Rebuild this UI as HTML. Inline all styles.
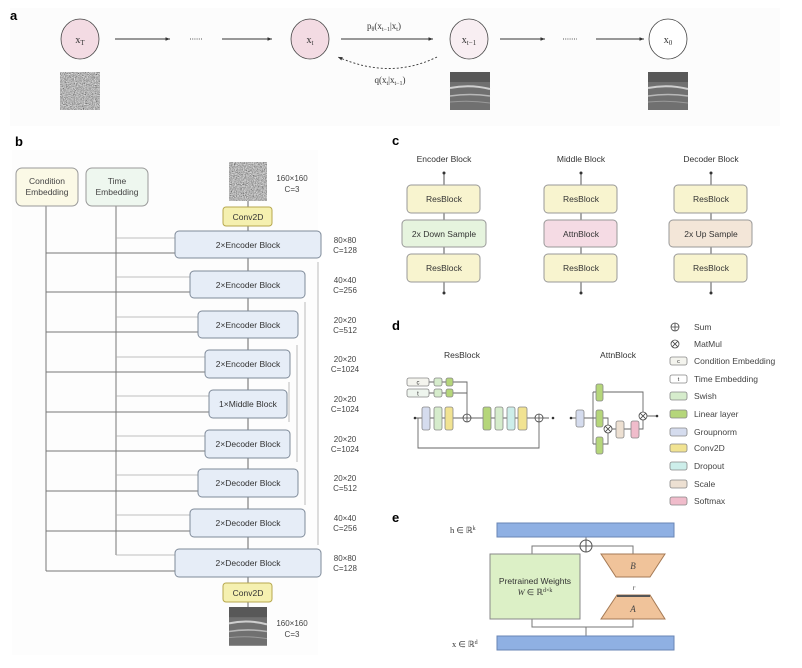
<!DOCTYPE html>
<html><head><meta charset="utf-8"><style>
html,body{margin:0;padding:0;background:#fff;}
svg{display:block;font-family:"Liberation Sans",sans-serif;}
</style></head><body>
<svg width="802" height="668" viewBox="0 0 802 668" xmlns="http://www.w3.org/2000/svg">
<defs>
<filter id="noise" x="0" y="0" width="100%" height="100%"><feTurbulence type="fractalNoise" baseFrequency="0.9" numOctaves="2" seed="3"/><feColorMatrix type="matrix" values="0.6 0.6 0.6 0 -0.45  0.6 0.6 0.6 0 -0.45  0.6 0.6 0.6 0 -0.45  0 0 0 0 1"/></filter>
<marker id="ar" markerWidth="6" markerHeight="6" refX="5" refY="3" orient="auto"><path d="M0,1 L5,3 L0,5z" fill="#333"/></marker>
<g id="us">
<rect width="40" height="38" fill="#707070"/>
<rect y="0" width="40" height="10" fill="#585858"/>
<path d="M0,16 Q20,12 40,17" stroke="#cfcfcf" stroke-width="2" fill="none"/>
<path d="M0,24 Q20,21 40,24" stroke="#b8b8b8" stroke-width="1.5" fill="none"/>
<path d="M0,30 Q20,28 40,31" stroke="#999" stroke-width="1" fill="none"/>
</g>
</defs>
<rect x="10" y="8" width="770" height="118" fill="#fcfcfc"/>
<rect x="12" y="150" width="306" height="505" fill="#fdfdfd"/>
<!-- section a -->
<text x="10" y="20" font-size="13" font-weight="bold">a</text>
<g stroke="#444" stroke-width="0.8">
<ellipse cx="80" cy="39" rx="19" ry="20" fill="#f3dbe3"/>
<ellipse cx="310" cy="39" rx="19" ry="20" fill="#f3dbe3"/>
<ellipse cx="469" cy="39" rx="19" ry="20" fill="#f8eef2"/>
<ellipse cx="668" cy="39" rx="19" ry="20" fill="#fff"/>
</g>
<g font-family="Liberation Serif,serif" font-size="10" fill="#333" text-anchor="middle">
<text x="80" y="43">x<tspan font-size="7" dy="2">T</tspan></text>
<text x="310" y="43">x<tspan font-size="7" dy="2">t</tspan></text>
<text x="469" y="43">x<tspan font-size="7" dy="2">t−1</tspan></text>
<text x="668" y="43">x<tspan font-size="7" dy="2">0</tspan></text>
<text x="384" y="29" font-size="9">p<tspan font-size="6" dy="2">θ</tspan><tspan dy="-2">(x</tspan><tspan font-size="6" dy="2">t−1</tspan><tspan dy="-2">|x</tspan><tspan font-size="6" dy="2">t</tspan><tspan dy="-2">)</tspan></text>
<text x="390" y="83" font-size="9">q(x<tspan font-size="6" dy="2">t</tspan><tspan dy="-2">|x</tspan><tspan font-size="6" dy="2">t−1</tspan><tspan dy="-2">)</tspan></text>
</g>
<g stroke="#333" stroke-width="0.9" marker-end="url(#ar)">
<line x1="115" y1="39" x2="170" y2="39"/><line x1="222" y1="39" x2="272" y2="39"/>
<line x1="341" y1="39" x2="433" y2="39"/>
<line x1="500" y1="39" x2="545" y2="39"/><line x1="596" y1="39" x2="644" y2="39"/>
<path d="M437,57 Q390,80 338,57" fill="none" stroke-dasharray="2,2"/>
</g>
<g stroke="#555" stroke-dasharray="1,1.2"><line x1="190" y1="39" x2="203" y2="39"/><line x1="563" y1="39" x2="577" y2="39"/></g>
<rect x="60" y="72" width="40" height="38" filter="url(#noise)"/>
<use href="#us" x="450" y="72"/><use href="#us" x="648" y="72"/>

<!-- section b -->
<text x="15" y="146" font-size="13" font-weight="bold">b</text>
<g stroke="#777" stroke-width="1" fill="none">
<path d="M46,206 V571 M116,206 V555"/>
<path d="M46,253H175 M46,292H190 M46,332H198 M46,372H205 M46,412H209 M46,451H205 M46,491H198 M46,531H190 M46,571H175"/>
</g>
<g stroke="#aaa" stroke-width="0.8" fill="none">
<path d="M116,238H175 M116,277H190 M116,317H198 M116,357H205 M116,396H209 M116,436H205 M116,475H198 M116,515H190 M116,555H175"/>
<path d="M318,262V545 M305,302V505 M297,345V462 M289,382V422"/>
</g>
<line x1="248" y1="201" x2="248" y2="607" stroke="#666"/>
<rect x="16" y="168" width="62" height="38" rx="6" fill="#fbf9e6" stroke="#999"/>
<rect x="86" y="168" width="62" height="38" rx="6" fill="#eef7ef" stroke="#999"/>
<g font-size="8.5" fill="#444" text-anchor="middle">
<text x="47" y="184">Condition</text><text x="47" y="195">Embedding</text>
<text x="117" y="184">Time</text><text x="117" y="195">Embedding</text>
</g>
<rect x="229" y="162" width="38" height="39" filter="url(#noise)"/>
<use href="#us" x="229" y="607" transform="translate(229 607) scale(0.95 1.02) translate(-229 -607)"/>
<g fill="#f5f0b0" stroke="#b7a84e"><rect x="223" y="207" width="49" height="19" rx="3"/><rect x="223" y="583" width="49" height="19" rx="3"/></g>
<g fill="#e6edf7" stroke="#7e8a99">
<rect x="175" y="231" width="146" height="27" rx="4"/>
<rect x="190" y="271" width="115" height="27" rx="4"/>
<rect x="198" y="311" width="100" height="27" rx="4"/>
<rect x="205" y="350" width="85" height="28" rx="4"/>
<rect x="209" y="390" width="78" height="28" rx="4"/>
<rect x="205" y="430" width="85" height="28" rx="4"/>
<rect x="198" y="469" width="100" height="28" rx="4"/>
<rect x="190" y="509" width="115" height="28" rx="4"/>
<rect x="175" y="549" width="146" height="28" rx="4"/>
</g>
<g font-size="8.5" fill="#333" text-anchor="middle">
<text x="248" y="220">Conv2D</text><text x="248" y="596">Conv2D</text>
<text x="248" y="248">2×Encoder Block</text>
<text x="248" y="288">2×Encoder Block</text>
<text x="248" y="328">2×Encoder Block</text>
<text x="248" y="367">2×Encoder Block</text>
<text x="248" y="407">1×Middle Block</text>
<text x="248" y="447">2×Decoder Block</text>
<text x="248" y="486">2×Decoder Block</text>
<text x="248" y="526">2×Decoder Block</text>
<text x="248" y="566">2×Decoder Block</text>
</g>
<g font-size="8" fill="#444" text-anchor="middle">
<text x="292" y="181">160×160</text><text x="292" y="192">C=3</text>
<text x="292" y="626">160×160</text><text x="292" y="637">C=3</text>
<text x="345" y="243">80×80</text><text x="345" y="253">C=128</text>
<text x="345" y="283">40×40</text><text x="345" y="293">C=256</text>
<text x="345" y="323">20×20</text><text x="345" y="333">C=512</text>
<text x="345" y="362">20×20</text><text x="345" y="372">C=1024</text>
<text x="345" y="402">20×20</text><text x="345" y="412">C=1024</text>
<text x="345" y="442">20×20</text><text x="345" y="452">C=1024</text>
<text x="345" y="481">20×20</text><text x="345" y="491">C=512</text>
<text x="345" y="521">40×40</text><text x="345" y="531">C=256</text>
<text x="345" y="561">80×80</text><text x="345" y="571">C=128</text>
</g>

<!-- section c -->
<text x="392" y="145" font-size="13" font-weight="bold">c</text>
<g stroke="#555" stroke-width="1"><line x1="444" y1="173" x2="444" y2="293"/><line x1="581" y1="173" x2="581" y2="293"/><line x1="711" y1="173" x2="711" y2="293"/></g>
<g fill="#333"><circle cx="444" cy="173" r="1.5"/><circle cx="444" cy="293" r="1.5"/><circle cx="581" cy="173" r="1.5"/><circle cx="581" cy="293" r="1.5"/><circle cx="711" cy="173" r="1.5"/><circle cx="711" cy="293" r="1.5"/></g>
<g stroke="#999" stroke-width="1">
<g fill="#f8f4cf"><rect x="407" y="185" width="73" height="28" rx="4"/><rect x="407" y="254" width="73" height="28" rx="4"/>
<rect x="544" y="185" width="73" height="28" rx="4"/><rect x="544" y="254" width="73" height="28" rx="4"/>
<rect x="674" y="185" width="73" height="28" rx="4"/><rect x="674" y="254" width="73" height="28" rx="4"/></g>
<rect x="402" y="220" width="84" height="27" rx="4" fill="#e6f4de"/>
<rect x="544" y="220" width="73" height="27" rx="4" fill="#f5dbe4"/>
<rect x="669" y="220" width="83" height="27" rx="4" fill="#f3e6d8"/>
</g>
<g font-size="8.5" fill="#333" text-anchor="middle">
<text x="444" y="162">Encoder Block</text><text x="581" y="162">Middle Block</text><text x="711" y="162">Decoder Block</text>
<text x="444" y="202">ResBlock</text><text x="444" y="271">ResBlock</text><text x="444" y="237">2x Down Sample</text>
<text x="581" y="202">ResBlock</text><text x="581" y="271">ResBlock</text><text x="581" y="237">AttnBlock</text>
<text x="711" y="202">ResBlock</text><text x="711" y="271">ResBlock</text><text x="711" y="237">2x Up Sample</text>
</g>

<!-- section d -->
<text x="392" y="330" font-size="13" font-weight="bold">d</text>
<g font-size="8.5" fill="#333" text-anchor="middle"><text x="462" y="358">ResBlock</text><text x="618" y="358">AttnBlock</text></g>
<g stroke="#666" stroke-width="0.9" fill="none">
<path d="M415,418H549 M418,418V448H539V422 M429,382H467V414 M429,393H467"/>
<path d="M571,418H593 M593,392V444 M593,392H643V412 M593,418H608V425 M593,444H608V433 M612,429H643V420 M647,416H656"/>
</g>
<circle cx="415" cy="418" r="1.3" fill="#333"/><circle cx="553" cy="418" r="1.3" fill="#333"/>
<circle cx="571" cy="418" r="1.3" fill="#333"/><circle cx="657" cy="416" r="1.3" fill="#333"/>
<g stroke="#888" stroke-width="0.8">
<rect x="407" y="378" width="22" height="8" rx="2" fill="#f4f4ee"/><rect x="407" y="389" width="22" height="8" rx="2" fill="#eef5ee"/>
<rect x="434" y="378" width="8" height="8" rx="2" fill="#d6eccc"/><rect x="446" y="378" width="7" height="8" rx="2" fill="#b5d67a"/>
<rect x="434" y="389" width="8" height="8" rx="2" fill="#d6eccc"/><rect x="446" y="389" width="7" height="8" rx="2" fill="#b5d67a"/>
<rect x="422" y="407" width="8" height="23" rx="2" fill="#d5dcee"/>
<rect x="434" y="407" width="8" height="23" rx="2" fill="#d6eccc"/>
<rect x="445" y="407" width="8" height="23" rx="2" fill="#f1e392"/>
<rect x="483" y="407" width="8" height="23" rx="2" fill="#b5d67a"/>
<rect x="495" y="407" width="8" height="23" rx="2" fill="#d6eccc"/>
<rect x="507" y="407" width="8" height="23" rx="2" fill="#cdeeea"/>
<rect x="518" y="407" width="9" height="23" rx="2" fill="#f1e392"/>
<rect x="576" y="410" width="8" height="17" rx="2" fill="#d5dcee"/>
<rect x="596" y="384" width="7" height="17" rx="2" fill="#b5d67a"/>
<rect x="596" y="410" width="7" height="17" rx="2" fill="#b5d67a"/>
<rect x="596" y="437" width="7" height="17" rx="2" fill="#b5d67a"/>
<rect x="616" y="421" width="8" height="17" rx="2" fill="#ede0d2"/>
<rect x="631" y="421" width="8" height="17" rx="2" fill="#f0bccb"/>
</g>
<g font-size="6" fill="#333" text-anchor="middle"><text x="418" y="384.5">c</text><text x="418" y="395.5">t</text></g>
<g stroke="#444" stroke-width="0.8" fill="#fff">
<circle cx="467" cy="418" r="4"/><path d="M463,418H471M467,414V422"/>
<circle cx="539" cy="418" r="4"/><path d="M535,418H543M539,414V422"/>
<circle cx="608" cy="429" r="4"/><path d="M605.2,426.2L610.8,431.8M610.8,426.2L605.2,431.8"/>
<circle cx="643" cy="416" r="4"/><path d="M640.2,413.2L645.8,418.8M645.8,413.2L640.2,418.8"/>
<circle cx="675" cy="327" r="4"/><path d="M671,327H679M675,323V331"/>
<circle cx="675" cy="344" r="4"/><path d="M672.2,341.2L677.8,346.8M677.8,341.2L672.2,346.8"/>
</g>
<g stroke="#888" stroke-width="0.8">
<rect x="670" y="357" width="17" height="8" rx="2" fill="#f4f4ee"/>
<rect x="670" y="375" width="17" height="8" rx="2" fill="#fff"/>
<rect x="670" y="392" width="17" height="8" rx="2" fill="#d6eccc"/>
<rect x="670" y="410" width="17" height="8" rx="2" fill="#b5d67a"/>
<rect x="670" y="428" width="17" height="8" rx="2" fill="#d5dcee"/>
<rect x="670" y="444" width="17" height="8" rx="2" fill="#f1e392"/>
<rect x="670" y="462" width="17" height="8" rx="2" fill="#cdeeea"/>
<rect x="670" y="480" width="17" height="8" rx="2" fill="#ede0d2"/>
<rect x="670" y="497" width="17" height="8" rx="2" fill="#f0bccb"/>
</g>
<g font-size="5.5" fill="#333" text-anchor="middle"><text x="678.5" y="363">c</text><text x="678.5" y="381">t</text></g>
<g font-size="8.5" fill="#444">
<text x="694" y="330">Sum</text><text x="694" y="347">MatMul</text>
<text x="694" y="364">Condition Embedding</text><text x="694" y="382">Time Embedding</text>
<text x="694" y="399">Swish</text><text x="694" y="417">Linear layer</text>
<text x="694" y="435">Groupnorm</text><text x="694" y="451">Conv2D</text>
<text x="694" y="469">Dropout</text><text x="694" y="487">Scale</text><text x="694" y="504">Softmax</text>
</g>

<!-- section e -->
<text x="392" y="522" font-size="13" font-weight="bold">e</text>
<g stroke="#777" stroke-width="1" fill="none">
<path d="M532,554V546H580 M592,546H633V554 M586,537V540 M532,619V627H633V619 M586,627V636"/>
</g>
<rect x="497" y="523" width="177" height="14" fill="#8fb0e3" stroke="#6a86b5"/>
<rect x="497" y="636" width="177" height="14" fill="#8fb0e3" stroke="#6a86b5"/>
<circle cx="586" cy="546" r="6" fill="#fff" stroke="#555"/><path d="M580,546H592M586,540V552" stroke="#555"/>
<rect x="490" y="554" width="90" height="65" fill="#dcf0c6" stroke="#888"/>
<path d="M601,554H665L650,577H616Z" fill="#f0c39a" stroke="#a57a55"/>
<path d="M617,595H650L665,619H601Z" fill="#f0c39a" stroke="#a57a55"/>
<line x1="617" y1="596" x2="650" y2="596" stroke="#555" stroke-width="2"/>
<g font-family="Liberation Serif,serif" font-style="italic" font-size="9" fill="#444" text-anchor="middle">
<text x="633" y="569">B</text><text x="633" y="612">A</text><text x="634" y="590" font-size="7">r</text>
</g>
<g font-size="8.5" fill="#333" text-anchor="middle"><text x="535" y="584">Pretrained Weights</text>
<text x="535" y="595" font-family="Liberation Serif,serif"><tspan font-style="italic">W</tspan> ∈ ℝ<tspan font-size="6" dy="-3">d×k</tspan></text></g>
<g font-family="Liberation Serif,serif" font-size="8.5" fill="#333">
<text x="450" y="533">h ∈ ℝ<tspan font-size="6" dy="-3">k</tspan></text>
<text x="452" y="647">x ∈ ℝ<tspan font-size="6" dy="-3">d</tspan></text>
</g>
</svg>
</body></html>
